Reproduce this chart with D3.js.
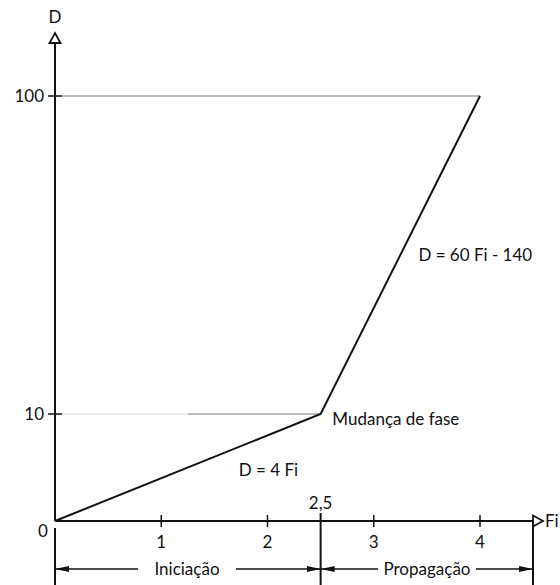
<!DOCTYPE html>
<html>
<head>
<meta charset="utf-8">
<script src="https://cdn.jsdelivr.net/npm/d3@7"></script>
<style>
  body { margin: 0; background: #fff; }
  text { font-family: Lato, "Open Sans", sans-serif; fill: #111; }
</style>
</head>
<body>
<script>
// curve points
const fiValues = [0, 2.5, 4];
const dValues = [0, 10, 100];
const xTicks = [1, 2, 3, 4];
const yTicks = [10, 100];
const phaseF = 2.5;
const labels = [
  { text: "D = 60 Fi - 140", f: 3.42, d: 55 },
  { text: "Mudança de fase", f: 2.61, d: 9.5 },
  { text: "D = 4 Fi", f: 1.73, d: 4.8 }
];

const width = 560, height = 585;
const fs = 17;
const svg = d3.select("body").append("svg")
  .attr("width", width).attr("height", height);

const x = d3.scaleLinear().domain([0, 4]).range([55, 480]);
// axis is broken: 0-10 and 10-100 use different spacing
const y = d3.scaleLinear().domain([0, 10, 100]).range([521, 414, 96]);

const defs = svg.append("defs");
defs.append("marker").attr("id", "arr")
  .attr("viewBox", "0 0 14 6").attr("refX", 14).attr("refY", 3)
  .attr("markerWidth", 14).attr("markerHeight", 6)
  .attr("markerUnits", "userSpaceOnUse").attr("orient", "auto")
  .append("path").attr("d", "M0,0 L14,3 L0,6 Z").attr("fill", "#111");

// gridlines
svg.append("line").attr("x1", x(0) + 7).attr("x2", x(4))
  .attr("y1", y(100)).attr("y2", y(100))
  .attr("stroke", "#777").attr("stroke-width", 1);
svg.append("line").attr("x1", x(0) + 7).attr("x2", 188)
  .attr("y1", y(10)).attr("y2", y(10))
  .attr("stroke", "#d4d4d4").attr("stroke-width", 1);
svg.append("line").attr("x1", 188).attr("x2", x(phaseF))
  .attr("y1", y(10)).attr("y2", y(10))
  .attr("stroke", "#777").attr("stroke-width", 1);

// y axis
svg.append("line").attr("x1", x(0)).attr("x2", x(0))
  .attr("y1", y(0)).attr("y2", 43)
  .attr("stroke", "#111").attr("stroke-width", 2);
svg.append("path").attr("d", `M${x(0)},33 L${x(0) + 5.5},43 L${x(0) - 5.5},43 Z`)
  .attr("fill", "#fff").attr("stroke", "#111").attr("stroke-width", 1.8);
svg.append("text").attr("x", x(0)).attr("y", 17).attr("dy", "0.35em").attr("text-anchor", "middle")
  .attr("font-size", fs).text("D");

svg.selectAll(".ytick").data(yTicks).join("line")
  .attr("x1", x(0) - 7).attr("x2", x(0) + 7)
  .attr("y1", d => y(d)).attr("y2", d => y(d))
  .attr("stroke", "#111").attr("stroke-width", 1.5);
svg.selectAll(".ylab").data(yTicks).join("text")
  .attr("x", x(0) - 11).attr("y", d => y(d)).attr("dy", "0.35em")
  .attr("text-anchor", "end").attr("font-size", fs).text(d => d);
svg.append("text").attr("x", 43).attr("y", 531).attr("dy", "0.35em")
  .attr("text-anchor", "middle").attr("font-size", fs).text("0");

// x axis
svg.append("line").attr("x1", x(0)).attr("x2", 533)
  .attr("y1", y(0)).attr("y2", y(0))
  .attr("stroke", "#111").attr("stroke-width", 2);
svg.append("path").attr("d", `M543,${y(0)} L533,${y(0) - 5.5} L533,${y(0) + 5.5} Z`)
  .attr("fill", "#fff").attr("stroke", "#111").attr("stroke-width", 1.8);
svg.append("text").attr("x", 545).attr("y", y(0)).attr("dy", "0.35em")
  .attr("font-size", fs).text("Fi");

svg.selectAll(".xtick").data(xTicks).join("line")
  .attr("x1", d => x(d)).attr("x2", d => x(d))
  .attr("y1", y(0) - 6).attr("y2", y(0) + 6)
  .attr("stroke", "#111").attr("stroke-width", 1.5);
svg.selectAll(".xlab").data(xTicks).join("text")
  .attr("x", d => x(d)).attr("y", 542).attr("dy", "0.35em")
  .attr("text-anchor", "middle").attr("font-size", fs).text(d => d);
svg.append("text").attr("x", x(phaseF)).attr("y", 503).attr("dy", "0.35em")
  .attr("text-anchor", "middle").attr("font-size", fs).text("2,5");

// phase boundaries
svg.append("line").attr("x1", x(0)).attr("x2", x(0)).attr("y1", 528).attr("y2", height)
  .attr("stroke", "#111").attr("stroke-width", 2);
svg.append("line").attr("x1", x(phaseF)).attr("x2", x(phaseF)).attr("y1", 513).attr("y2", height)
  .attr("stroke", "#111").attr("stroke-width", 2);
svg.append("line").attr("x1", 533).attr("x2", 533).attr("y1", y(0)).attr("y2", height)
  .attr("stroke", "#111").attr("stroke-width", 2);

const ay = 569;
const arrows = [[138, x(0)], [236, x(phaseF)], [378, x(phaseF)], [476, 533]];
svg.selectAll(".parr").data(arrows).join("line")
  .attr("x1", d => d[0]).attr("x2", d => d[1])
  .attr("y1", ay).attr("y2", ay)
  .attr("stroke", "#111").attr("stroke-width", 1.5)
  .attr("marker-end", "url(#arr)");
svg.append("text").attr("x", 187).attr("y", ay).attr("dy", "0.35em")
  .attr("text-anchor", "middle").attr("font-size", fs).text("Iniciação");
svg.append("text").attr("x", 427).attr("y", ay).attr("dy", "0.35em")
  .attr("text-anchor", "middle").attr("font-size", fs).text("Propagação");

// curve
const pts = fiValues.map((f, i) => [f, dValues[i]]);
svg.append("path").datum(pts)
  .attr("d", d3.line().x(d => x(d[0])).y(d => y(d[1])))
  .attr("fill", "none").attr("stroke", "#111").attr("stroke-width", 2);

svg.selectAll(".lab").data(labels).join("text")
  .attr("x", d => x(d.f)).attr("y", d => y(d.d)).attr("dy", "0.35em")
  .attr("font-size", fs).text(d => d.text);
</script>
</body>
</html>
